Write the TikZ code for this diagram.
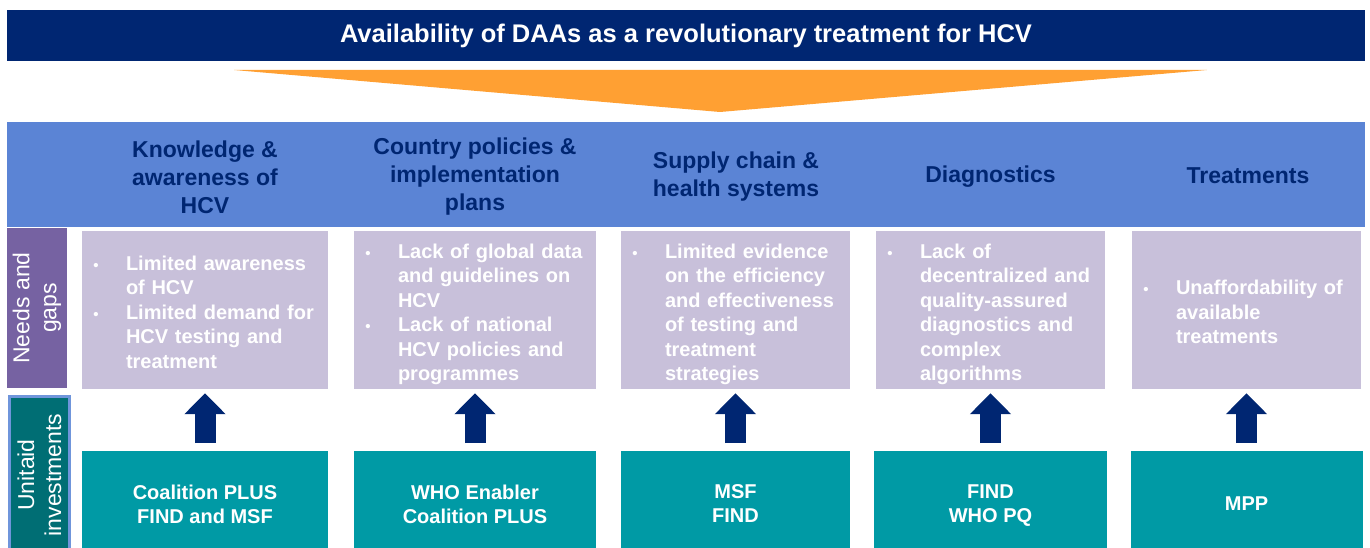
\documentclass[tikz,border=0pt]{standalone}
\usepackage{fontspec}
\setmainfont{Liberation Sans}
\usetikzlibrary{arrows.meta}
\usetikzlibrary{positioning}

\definecolor{navy}{HTML}{002672}
\definecolor{amber}{HTML}{FFA033}
\definecolor{bandblue}{HTML}{5B84D5}
\definecolor{lilac}{HTML}{C8C0DA}
\definecolor{plum}{HTML}{7662A2}
\definecolor{investteal}{HTML}{009AA5}
\definecolor{darkteal}{HTML}{006E74}
\definecolor{edgeblue}{HTML}{6F95DB}

\newcommand{\bannerfont}{\fontsize{25.5}{30}\selectfont\bfseries}
\newcommand{\colheadfont}{\fontsize{23}{28}\selectfont\bfseries}
\newcommand{\gapfont}{\fontsize{20}{24.5}\selectfont\bfseries}
\newcommand{\investfont}{\fontsize{20}{24}\selectfont\bfseries}
\newcommand{\sidefont}{\fontsize{23}{27}\selectfont}
\newcommand{\gapbul}{\makebox[14pt]{\fontsize{15}{15}\selectfont\textbullet}}
\newcommand{\gaplist}[1]{\raisebox{-4.5pt}[\height][\depth]{%
  \begin{tabular}{@{}l@{\hspace{23pt}}l@{}}#1\end{tabular}}}

\tikzset{
  colhead/.style={font=\colheadfont, text=navy, align=center},
  gapbox/.style={fill=lilac, text=white, font=\gapfont, align=left,
    inner xsep=7pt, inner ysep=0pt, minimum height=158pt},
  investbox/.style={fill=investteal, text=white, font=\investfont,
    align=center, inner sep=0pt, minimum height=105pt},
  sidelabel/.style={rotate=90, text=white, font=\sidefont, align=center,
    inner sep=0pt},
  upblock/.style={draw=navy, line width=21pt,
    -{Triangle[width=40pt,length=21pt]}, shorten <=8pt, shorten >=4pt}
}

\begin{document}
\begin{tikzpicture}[x=1pt, y=-1pt]
  \path[use as bounding box, clip] (0,0) rectangle (1370,548);

  % banner and funnel
  \node[fill=navy, text=white, font=\bannerfont, minimum width=1358pt,
    minimum height=51pt, inner sep=0pt] (banner) at (686,35.5)
    {Availability of DAAs as a revolutionary treatment for HCV};
  \fill[amber] (234,70) -- (1207,70) -- (720,112) -- cycle;

  % column headers
  \node[fill=bandblue, minimum width=1358pt, minimum height=105pt,
    inner sep=0pt] (band) at (686,174.5) {};
  \node[colhead] (head1) at (205,177) {Knowledge \&\\awareness of\\HCV};
  \node[colhead] (head2) at (475,177) {Country policies \&\\implementation\\plans};
  \node[colhead] (head3) at (736,177) {Supply chain \&\\health systems};
  \node[colhead] (head4) at (990.5,176.5) {Diagnostics};
  \node[colhead] (head5) at (1248,176) {Treatments};

  % row labels
  \node[sidelabel, fill=plum, minimum width=160pt, minimum height=60pt]
    (needs) at (37,308) {Needs and\\gaps};
  \node[sidelabel, fill=darkteal, draw=edgeblue, line width=3pt,
    minimum width=157pt, minimum height=60pt]
    (unitaid) at (39.5,475) {Unitaid\\investments};

  % needs and gaps
  \node[gapbox, text width=232pt] (gap1) at (205,310) {\gaplist{
    \gapbul & Limited awareness\\ & of HCV\\
    \gapbul & Limited demand for\\ & HCV testing and\\ & treatment}};
  \node[gapbox, text width=228pt] (gap2) at (475,310) {\gaplist{
    \gapbul & Lack of global data\\ & and guidelines on\\ & HCV\\
    \gapbul & Lack of national\\ & HCV policies and\\ & programmes}};
  \node[gapbox, text width=215pt] (gap3) at (735.5,310) {\gaplist{
    \gapbul & Limited evidence\\ & on the efficiency\\ & and effectiveness\\
    & of testing and\\ & treatment\\ & strategies}};
  \node[gapbox, text width=215pt] (gap4) at (990.5,310) {\gaplist{
    \gapbul & Lack of\\ & decentralized and\\ & quality-assured\\
    & diagnostics and\\ & complex\\ & algorithms}};
  \node[gapbox, text width=215pt] (gap5) at (1246.5,310) {\gaplist{
    \gapbul & Unaffordability of\\ & available\\ & treatments}};

  % investments
  \node[investbox, minimum width=246pt, below=62pt of gap1] (inv1)
    {Coalition PLUS\\FIND and MSF};
  \node[investbox, minimum width=242pt, below=62pt of gap2] (inv2)
    {WHO Enabler\\Coalition PLUS};
  \node[investbox, minimum width=229pt, below=62pt of gap3] (inv3)
    {MSF\\FIND};
  \node[investbox, minimum width=233pt, below=62pt of gap4] (inv4)
    {FIND\\WHO P\smash{Q}};
  \node[investbox, minimum width=232pt, below=62pt of gap5] (inv5)
    {MPP};

  \draw[upblock] (inv1) -- (gap1);
  \draw[upblock] (inv2) -- (gap2);
  \draw[upblock] (inv3) -- (gap3);
  \draw[upblock] (inv4) -- (gap4);
  \draw[upblock] (inv5) -- (gap5);
\end{tikzpicture}
\end{document}
